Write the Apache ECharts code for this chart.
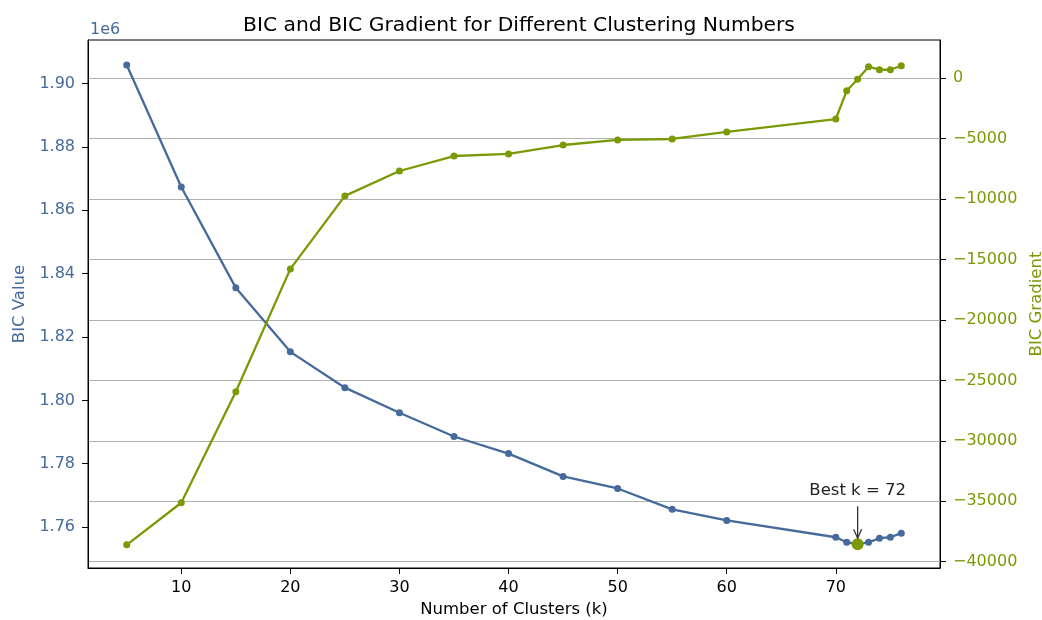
<!DOCTYPE html>
<html>
<head>
<meta charset="utf-8">
<script src="https://cdn.jsdelivr.net/npm/echarts@6/dist/echarts.min.js"></script>
<style>html,body{margin:0;padding:0;background:#fff;}#c{width:1042px;height:620px;}</style>
</head>
<body>
<div id="c"></div>
<script>
const clusters = [5, 10, 15, 20, 25, 30, 35, 40, 45, 50, 55, 60, 70, 71, 72, 73, 74, 75, 76];
const bicValues = [1905800, 1867300, 1835500, 1815300, 1804000, 1796100, 1788600, 1783200, 1776000, 1772200, 1765600, 1762100, 1756800, 1755200, 1754600, 1755200, 1756500, 1756800, 1758100];
const bicGradient = [-38600, -35120, -25940, -15770, -9730, -7670, -6430, -6260, -5520, -5100, -5020, -4440, -3370, -1025, -80, 960, 710, 710, 1040];
const bestK = 72;
const xTicks = [10, 20, 30, 40, 50, 60, 70];
const leftTicks = [1760000, 1780000, 1800000, 1820000, 1840000, 1860000, 1880000, 1900000];
const rightTicks = [-40000, -35000, -30000, -25000, -20000, -15000, -10000, -5000, 0];

const BLUE = '#456a9b';
const GREEN = '#7a9a05';
const FONT = 'DejaVu Sans';

const chart = echarts.init(document.getElementById('c'), null, {renderer: 'canvas'});
const bestIdx = clusters.indexOf(bestK);

const option = {
  animation: false,
  backgroundColor: '#fff',
  textStyle: {fontFamily: FONT},
  title: {
    text: 'BIC and BIC Gradient for Different Clustering Numbers',
    left: 514, top: 11, textAlign: 'center',
    textStyle: {fontFamily: FONT, fontSize: 20.3, fontWeight: 'normal', color: '#000'}
  },
  grid: {left: 88, right: 102, top: 40, bottom: 52, containLabel: false, outerBoundsMode: 'none',
    show: true, borderColor: '#000', borderWidth: 1, backgroundColor: 'transparent'},
  xAxis: {
    type: 'value', min: 1.45, max: 79.55,
    name: 'Number of Clusters (k)', nameLocation: 'middle', nameGap: 31,
    nameTextStyle: {fontFamily: FONT, fontSize: 16.5, color: '#000'},
    axisLine: {show: true, onZero: false, lineStyle: {color: '#000'}},
    axisTick: {show: true, customValues: xTicks, length: 6, lineStyle: {color: '#000'}},
    axisLabel: {customValues: xTicks, fontFamily: FONT, fontSize: 16, color: '#000', margin: 12},
    splitLine: {show: false}
  },
  yAxis: [
    {
      type: 'value', position: 'left', min: 1747100, max: 1913700,
      name: 'BIC Value', nameLocation: 'middle', nameGap: 59,
      nameTextStyle: {fontFamily: FONT, fontSize: 16.5, color: BLUE},
      axisLine: {show: true, onZero: false, lineStyle: {color: '#000'}},
      axisTick: {show: true, customValues: leftTicks, length: 6, lineStyle: {color: '#000'}},
      axisLabel: {customValues: leftTicks, fontFamily: FONT, fontSize: 16, color: BLUE, margin: 13,
        formatter: v => (v / 1e6).toFixed(2)},
      splitLine: {show: false}
    },
    {
      type: 'value', position: 'right', min: -40520, max: 3170,
      name: 'BIC Gradient', nameLocation: 'middle', nameGap: 85, nameRotate: 90,
      nameTextStyle: {fontFamily: FONT, fontSize: 16.5, color: GREEN},
      axisLine: {show: true, onZero: false, lineStyle: {color: '#000'}},
      axisTick: {show: true, customValues: rightTicks, length: 6, lineStyle: {color: '#000'}},
      axisLabel: {customValues: rightTicks, fontFamily: FONT, fontSize: 16, color: GREEN, margin: 13,
        formatter: v => (v < 0 ? '\u2212' + Math.abs(v) : String(v))},
      splitLine: {show: true, lineStyle: {color: '#b0b0b0', width: 1}}
    }
  ],
  series: [
    {
      type: 'line', yAxisIndex: 0, z: 3,
      data: clusters.map((k, i) => [k, bicValues[i]]),
      symbol: 'circle', symbolSize: 7, showSymbol: true,
      lineStyle: {color: BLUE, width: 2.3}, itemStyle: {color: BLUE}
    },
    {
      type: 'line', yAxisIndex: 1, z: 4,
      data: clusters.map((k, i) => [k, bicGradient[i]]),
      symbol: 'circle', symbolSize: 7, showSymbol: true,
      lineStyle: {color: GREEN, width: 2.3}, itemStyle: {color: GREEN}
    },
    {
      type: 'scatter', yAxisIndex: 0, z: 5,
      data: [[bestK, bicValues[bestIdx]]],
      symbol: 'circle', symbolSize: 12, itemStyle: {color: GREEN, opacity: 1}
    }
  ]
};
chart.setOption(option);

const p = chart.convertToPixel({xAxisIndex: 0, yAxisIndex: 0}, [bestK, bicValues[bestIdx]]);
chart.setOption({
  graphic: [
    {type: 'text', left: 90, top: 22, style: {text: '1e6', fill: BLUE, font: '16px "DejaVu Sans"'}},
    {type: 'line', shape: {x1: p[0], y1: p[1] - 38, x2: p[0], y2: p[1] - 6}, style: {stroke: '#333', lineWidth: 1.3}, z: 10},
    {type: 'polyline', shape: {points: [[p[0] - 4, p[1] - 15], [p[0], p[1] - 6], [p[0] + 4, p[1] - 15]]}, style: {stroke: '#333', lineWidth: 1.3, fill: null}, z: 10},
    {type: 'text', x: p[0], y: p[1] - 45, style: {text: 'Best k = ' + bestK, fill: '#222', font: '16.5px "DejaVu Sans"', align: 'center', verticalAlign: 'bottom'}, z: 10}
  ]
});
</script>
</body>
</html>
